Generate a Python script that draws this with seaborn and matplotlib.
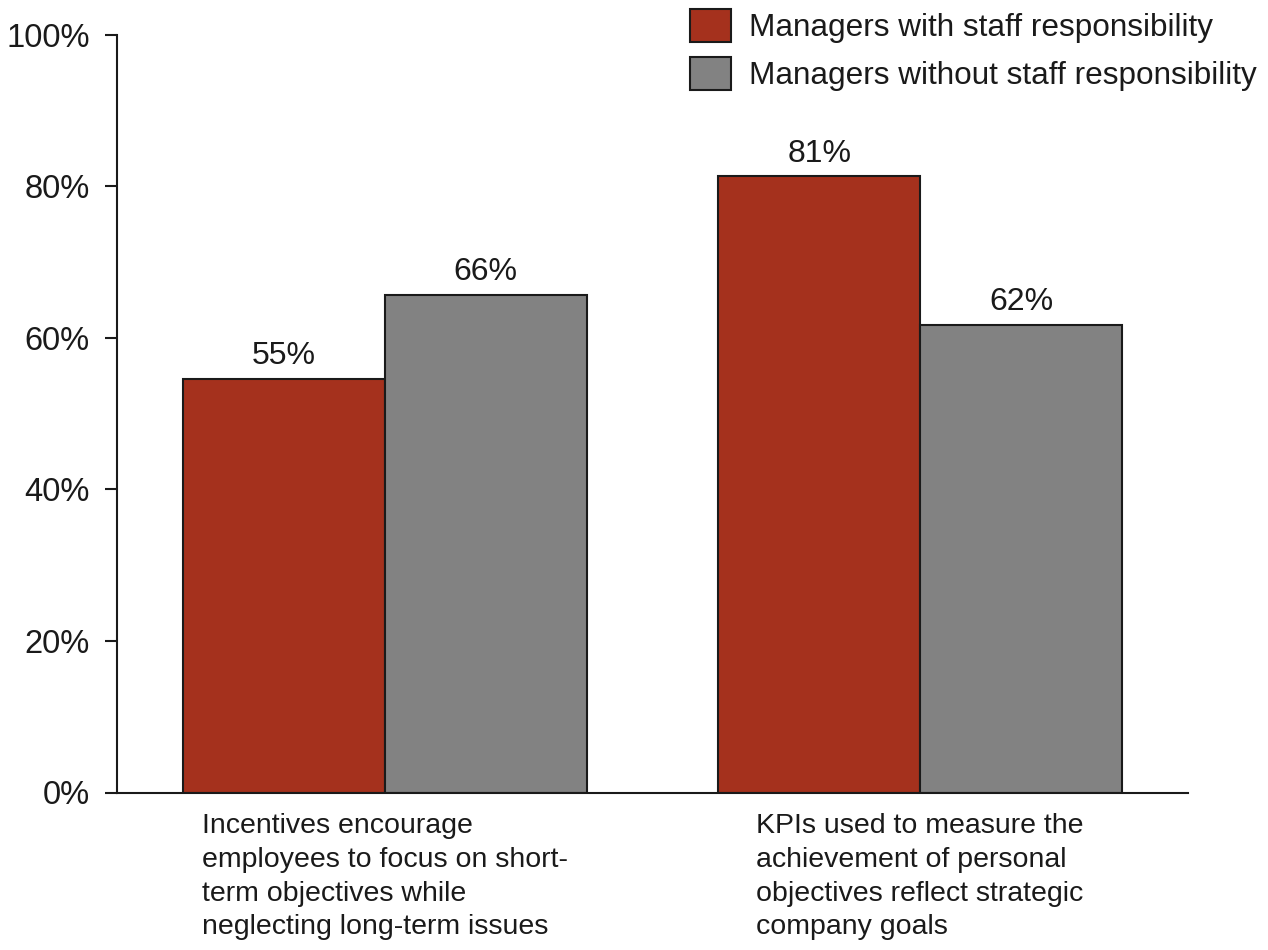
import matplotlib
matplotlib.use("Agg")
import matplotlib.pyplot as plt
import seaborn as sns
import pandas as pd
from matplotlib.patches import Patch

categories = [
    "Incentives encourage\nemployees to focus on short-\nterm objectives while\nneglecting long-term issues",
    "KPIs used to measure the\nachievement of personal\nobjectives reflect strategic\ncompany goals",
]
series_names = ["Managers with staff responsibility", "Managers without staff responsibility"]
with_staff = [54.6, 81.3]
without_staff = [65.7, 61.7]
yticks = [0, 20, 40, 60, 80, 100]
ytick_labels = ["0%", "20%", "40%", "60%", "80%", "100%"]
colors = ["#A5311D", "#828282"]

df = pd.DataFrame({
    "category": categories * 2,
    "group": [series_names[0]] * 2 + [series_names[1]] * 2,
    "value": with_staff + without_staff,
})

sns.set_theme(style="white")
plt.rcParams["font.family"] = ["Liberation Sans", "DejaVu Sans"]
text_color = "#1a1a1a"

fig = plt.figure(figsize=(12.68, 9.5), dpi=100)
ax = fig.add_axes([117 / 1268, 1 - 792.5 / 950, (1188 - 117) / 1268, (792.5 - 34.7) / 950])

sns.barplot(data=df, x="category", y="value", hue="group", order=categories,
            hue_order=series_names, palette=colors, width=0.755, gap=0,
            edgecolor="#1a1a1a", linewidth=1.5, saturation=1, ax=ax, legend=False)

for cont in ax.containers:
    ax.bar_label(cont, labels=[f"{round(v.get_height()):.0f}%" for v in cont],
                 padding=5.5, fontsize=23, color=text_color)

ax.set_xlim(-0.5, 1.5)
ax.set_ylim(0, 100)
ax.set_yticks(yticks)
ax.set_yticklabels(ytick_labels, fontsize=23.5, color=text_color)
ax.set_xlabel("")
ax.set_ylabel("")
ax.tick_params(axis="y", length=8.5, width=1.5, color="#1a1a1a", left=True, pad=11)
ax.tick_params(axis="x", length=0, pad=15)
for lab in ax.get_xticklabels():
    lab.set_fontsize(20.5)
    lab.set_multialignment("left")
    lab.set_linespacing(1.38)
    lab.set_color(text_color)
    lab.set_verticalalignment("top")

for s in ["top", "right"]:
    ax.spines[s].set_visible(False)
for s in ["left", "bottom"]:
    ax.spines[s].set_color("#1a1a1a")
    ax.spines[s].set_linewidth(1.5)

handles = [Patch(facecolor=c, edgecolor="#1a1a1a", linewidth=1.5) for c in colors]
fig.legend(handles, series_names, loc="upper right", bbox_to_anchor=(1257 / 1268, 1 - 9 / 950),
           frameon=False, fontsize=22.7, handlelength=1.3, handleheight=1.22,
           handletextpad=0.57, labelspacing=0.46, borderaxespad=0, borderpad=0,
           labelcolor=text_color)

fig.savefig("out.png", dpi=100)
